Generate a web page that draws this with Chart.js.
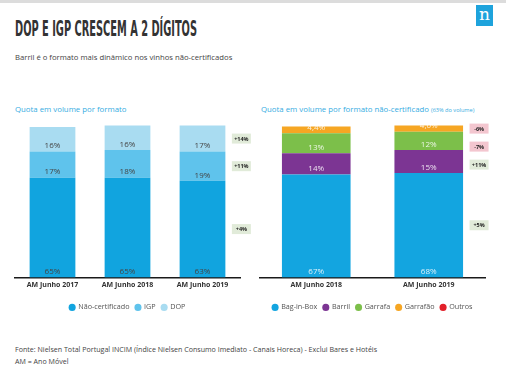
<!DOCTYPE html>
<html><head><meta charset="utf-8">
<script src="https://cdn.jsdelivr.net/npm/chart.js@4.4.1/dist/chart.umd.min.js"></script>
<style>
html,body{margin:0;padding:0;background:#fff;}
body{width:506px;height:382px;position:relative;overflow:hidden;font-family:"Open Sans",sans-serif;}
.topbar{position:absolute;left:0;top:0;width:506px;height:3px;background:#dcdcdc;}
.logo{position:absolute;left:476px;top:5px;width:17px;height:21px;background:#1ea3dc;color:#fff;font-family:"DejaVu Serif","Liberation Serif",serif;font-size:17px;line-height:19px;text-align:center;}
.title{position:absolute;left:15px;top:16px;font-family:"Liberation Sans Narrow","DejaVu Sans Condensed",sans-serif;font-weight:bold;font-size:22px;color:#333;white-space:nowrap;transform-origin:0 0;}
.sub{position:absolute;left:15px;top:52px;font-size:7.7px;color:#444;white-space:nowrap;}
.h{position:absolute;top:104px;font-size:7.8px;color:#35ace2;white-space:nowrap;}
.h small{font-size:5.6px;}
.foot{position:absolute;left:15px;font-size:7.1px;color:#444;white-space:nowrap;}
canvas{position:absolute;}
</style></head>
<body>
<div class="topbar"></div>
<div class="logo">n</div>
<div class="title" id="title">DOP E IGP CRESCEM A 2 DÍGITOS</div>
<div class="sub">Barril é o formato mais dinâmico nos vinhos não-certificados</div>
<div class="h" style="left:15px">Quota em volume por formato</div>
<div class="h" style="left:261px">Quota em volume por formato não-certificado <small>(63% do volume)</small></div>
<div class="foot" style="top:344px">Fonte: Nielsen Total Portugal INCIM (Índice Nielsen Consumo Imediato - Canais Horeca) - Exclui Bares e Hotéis</div>
<div class="foot" style="top:356px">AM = Ano Móvel</div>
<div style="position:absolute;left:0;top:115px;width:253px;height:212px"><canvas id="c1" width="253" height="212"></canvas></div>
<div style="position:absolute;left:245px;top:115px;width:255px;height:212px"><canvas id="c2" width="255" height="212"></canvas></div>
<script>
// ---- data ----
const leftCategories = ["AM Junho 2017", "AM Junho 2018", "AM Junho 2019"];
const naoCertificado = [65, 65, 63];
const igp = [17, 18, 19];
const dop = [16, 16, 17];
const leftChanges = ["+4%", "+11%", "+14%"];

const rightCategories = ["AM Junho 2018", "AM Junho 2019"];
const bagInBox = [67, 68];
const barril = [14, 15];
const garrafa = [13, 12];
const garrafao = [4.4, 4.0];
const outros = [0, 0];
const rightChanges = ["+5%", "+11%", "-7%", "-6%", null];

// fit title width
(function(){const t=document.getElementById('title');const w=t.getBoundingClientRect().width;t.style.transform='scaleX('+(182/w)+')';})();

function fmt(v, decimals){
  return v.toFixed(decimals || 0).replace('.', ',') + '%';
}

const labelsPlugin = {
  id: 'segLabels',
  afterDatasetsDraw(chart, args, opts) {
    const ctx = chart.ctx;
    ctx.save();
    ctx.font = '8px "Open Sans"';
    ctx.textAlign = 'center';
    ctx.textBaseline = 'middle';
    chart.data.datasets.forEach((ds, di) => {
      const meta = chart.getDatasetMeta(di);
      meta.data.forEach((bar, i) => {
        const v = ds.data[i];
        if (!v) return;
        ctx.fillStyle = opts.color;
        ctx.fillText(fmt(v, ds.decimals), bar.x, bar.base - 5.5);
      });
    });
    // change badges next to last bar
    const changes = opts.changes;
    let lastY = -Infinity;
    const n = chart.data.labels.length - 1;
    chart.data.datasets.map((ds, di) => di).reverse().forEach(di => {
      const txt = changes[di];
      if (!txt) return;
      const bar = chart.getDatasetMeta(di).data[n];
      if (!bar) return;
      let y = (bar.y + bar.base) / 2;
      if (y < lastY + 18) y = lastY + 18;
      lastY = y;
      const x = bar.x + bar.width / 2 + 6.5;
      const w = 19, h = 10;
      ctx.fillStyle = txt.startsWith('-') ? '#f3c6cf' : '#e1ebd9';
      ctx.fillRect(x, y - h / 2, w, h);
      ctx.fillStyle = '#222';
      ctx.font = 'bold 5.5px "Open Sans"';
      ctx.fillText(txt, x + w / 2, y + 0.5);
    });
    ctx.restore();
  }
};

function makeChart(id, cats, sets, labelColor, changes, pad) {
  return new Chart(document.getElementById(id), {
    type: 'bar',
    data: { labels: cats, datasets: sets },
    plugins: [labelsPlugin],
    options: {
      responsive: false,
      animation: false,
      layout: { padding: pad },
      datasets: { bar: { categoryPercentage: 1, barPercentage: 0.61, borderWidth: 0 } },
      scales: {
        x: {
          stacked: true,
          grid: { display: false, drawTicks: false },
          border: { color: '#1a1a1a', width: 1.5 },
          ticks: { color: '#333', font: { family: 'Open Sans', size: 7, weight: 'bold' }, padding: 3 }
        },
        y: { stacked: true, display: false, min: 0, max: 100 }
      },
      plugins: {
        tooltip: { enabled: false },
        segLabels: { color: labelColor, changes: changes },
        legend: {
          position: 'bottom',
          title: { display: true, text: '', font: { size: 1 }, padding: { top: 2.4, bottom: 2.4 } },
          labels: {
            usePointStyle: true, pointStyle: 'circle', boxWidth: 5, boxHeight: 5,
            padding: 6, color: '#555', font: { family: 'Open Sans', size: 7.2 }
          }
        }
      }
    }
  });
}

makeChart('c1', leftCategories, [
  { label: 'Não-certificado', data: naoCertificado, backgroundColor: '#11a4df' },
  { label: 'IGP', data: igp, backgroundColor: '#5fc3ec' },
  { label: 'DOP', data: dop, backgroundColor: '#a9dcf1' }
], '#444', leftChanges, { left: 15, right: 13, top: 9, bottom: 6 });

makeChart('c2', rightCategories, [
  { label: 'Bag-in-Box', data: bagInBox, backgroundColor: '#13a5e0' },
  { label: 'Barril', data: barril, backgroundColor: '#7c3593' },
  { label: 'Garrafa', data: garrafa, backgroundColor: '#7cbf4a' },
  { label: 'Garrafão', data: garrafao, backgroundColor: '#f6a623', decimals: 1 },
  { label: 'Outros', data: outros, backgroundColor: '#e2202a' }
], 'rgba(255,255,255,0.85)', rightChanges, { left: 15, right: 15, top: 9, bottom: 6 });
</script>
</body></html>
